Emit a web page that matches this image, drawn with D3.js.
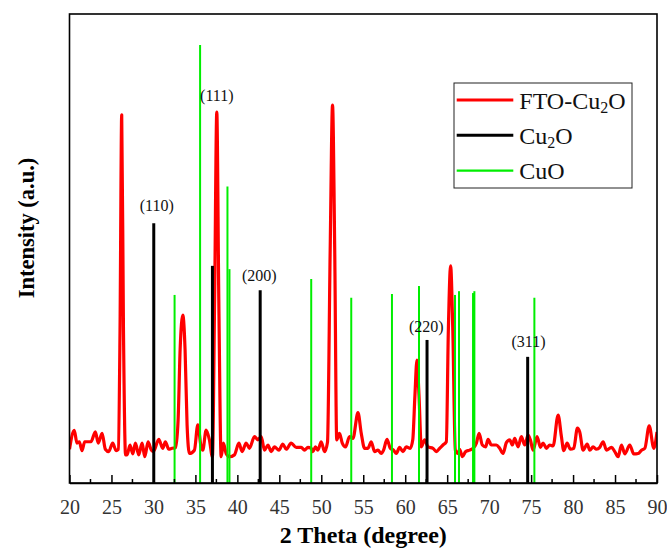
<!DOCTYPE html>
<html>
<head>
<meta charset="utf-8">
<script src="https://cdn.jsdelivr.net/npm/d3@7/dist/d3.min.js"></script>
<style>
  html, body { margin: 0; padding: 0; background: #fff; }
  svg { display: block; }
  text { font-family: "Liberation Serif", "Times New Roman", serif; }
</style>
</head>
<body>
<svg id="chart" width="667" height="549"></svg>
<script>
// Measured XRD pattern of the FTO-Cu2O film: 2θ (degree) and intensity (a.u.)
const patternTheta = [
  20.0, 20.57, 20.89, 21.17, 21.49, 21.81, 22.56, 23.08, 23.43, 23.88, 24.27, 24.67, 25.15, 25.55,
  25.82, 26.02, 26.22, 26.43, 26.68, 26.86, 27.21, 27.54, 27.85, 28.25, 28.65, 28.97, 29.36, 29.75,
  29.99, 30.64, 31.11, 31.42, 31.83, 32.22, 32.64, 32.94, 33.18, 33.50, 33.77, 34.01, 34.29, 34.88,
  35.29, 35.68, 35.88, 36.28, 36.67, 37.03, 37.29, 37.55, 37.79, 38.07, 38.34, 38.66, 39.06, 39.65,
  40.18, 40.57, 41.05, 41.44, 42.04, 42.44, 42.84, 43.23, 43.64, 44.03, 44.42, 44.95, 45.42, 45.82,
  46.41, 47.01, 47.61, 48.00, 48.41, 48.80, 49.00, 49.31, 49.60, 49.99, 50.39, 50.74, 51.06, 51.34,
  51.60, 51.84, 52.17, 52.50, 52.89, 53.37, 53.77, 54.37, 54.76, 55.16, 55.56, 55.95, 56.35, 56.75,
  57.15, 57.42, 57.83, 58.22, 58.61, 58.94, 59.33, 59.73, 60.13, 60.60, 60.90, 61.16, 61.40, 61.64,
  61.92, 62.31, 62.72, 63.31, 63.71, 64.10, 64.50, 64.90, 65.14, 65.41, 65.67, 65.97, 66.29, 66.48,
  66.81, 67.20, 67.68, 68.08, 68.48, 68.80, 69.19, 69.58, 69.87, 70.26, 70.86, 71.25, 71.66, 72.05,
  72.45, 72.77, 73.04, 73.45, 73.84, 74.24, 74.64, 74.91, 75.24, 75.71, 76.11, 76.43, 76.82, 77.22,
  77.62, 78.22, 78.61, 78.89, 79.29, 79.68, 80.08, 80.52, 80.79, 81.20, 81.68, 81.99, 82.39, 82.79,
  83.18, 83.58, 83.98, 84.57, 84.97, 85.37, 85.77, 86.16, 86.76, 87.23, 87.76, 88.15, 88.55, 89.07,
  89.62, 90.0
];
const patternIntensity = [
  72, 112, 85, 88, 69, 88, 88, 109, 85, 106, 72, 67, 85, 69,
  72, 326, 785, 326, 60, 60, 81, 62, 85, 60, 85, 56, 88, 70,
  67, 93, 74, 88, 72, 74, 75, 134, 284, 358, 284, 124, 63, 70,
  124, 77, 70, 113, 92, 56, 390, 791, 390, 56, 85, 63, 56, 60,
  85, 67, 85, 74, 99, 92, 99, 70, 81, 67, 77, 70, 83, 72,
  85, 76, 76, 70, 76, 74, 67, 77, 70, 88, 67, 87, 497, 806,
  497, 92, 106, 85, 77, 99, 95, 150, 106, 74, 74, 88, 67, 70,
  63, 70, 93, 74, 70, 63, 76, 67, 77, 74, 92, 188, 262, 188,
  77, 92, 77, 74, 67, 74, 81, 88, 326, 463, 326, 70, 63, 72,
  56, 67, 70, 74, 85, 106, 81, 77, 93, 81, 81, 74, 63, 86,
  92, 81, 95, 77, 99, 81, 102, 92, 70, 99, 76, 85, 74, 81,
  79, 145, 99, 69, 85, 72, 74, 117, 109, 70, 83, 70, 77, 72,
  76, 88, 70, 76, 67, 56, 81, 62, 81, 62, 63, 70, 74, 122,
  74, 109
];

// Reference stick positions and relative heights
const cu2oTheta = [30.04, 37.03, 42.72, 62.60, 74.59];
const cu2oIntensity = [554, 463, 411, 305, 269];
const cuoTheta = [32.52, 35.56, 38.82, 39.06, 48.80, 53.57, 58.42, 61.64, 65.93, 66.41, 68.08, 68.24, 75.39];
const cuoIntensity = [401, 934, 632, 456, 435, 395, 403, 420, 401, 409, 405, 409, 395];

// Miller indices of the Cu2O reflections and where they are written
const hklLabels = ["(110)", "(111)", "(200)", "(220)", "(311)"];
const hklTheta = [30.40, 37.55, 42.62, 62.51, 74.69];
const hklIntensity = [580, 814, 431, 322, 290];

const xTickValues = [20, 25, 30, 35, 40, 45, 50, 55, 60, 65, 70, 75, 80, 85, 90];

const seriesNames = ["FTO-Cu2O", "Cu2O", "CuO"];
const seriesColors = ["#ff0000", "#000000", "#00ee00"];

const svg = d3.select("#chart");
const margin = { left: 69.5, right: 10, top: 14, bottom: 66 };
const W = 667, H = 549;

const x = d3.scaleLinear().domain([20, 90]).range([margin.left, W - margin.right]);
const y = d3.scaleLinear().domain([0, 1000]).range([H - margin.bottom, margin.top]);

const plot = svg.append("g");

plot.append("defs").append("clipPath").attr("id", "clip")
  .append("rect")
  .attr("x", x(20)).attr("y", y(1000))
  .attr("width", x(90) - x(20)).attr("height", y(0) - y(1000));

// Diffraction pattern
const pattern = patternTheta.map((t, i) => [t, patternIntensity[i]]);
const line = d3.line()
  .x(d => x(d[0]))
  .y(d => y(d[1]))
  .curve(d3.curveMonotoneX);

plot.append("path")
  .datum(pattern)
  .attr("clip-path", "url(#clip)")
  .attr("fill", "none")
  .attr("stroke", seriesColors[0])
  .attr("stroke-width", 3.2)
  .attr("stroke-linejoin", "round")
  .attr("d", line);

// Cu2O reference sticks
plot.selectAll("line.cu2o")
  .data(cu2oTheta.map((t, i) => [t, cu2oIntensity[i]]))
  .join("line")
  .attr("class", "cu2o")
  .attr("x1", d => x(d[0])).attr("x2", d => x(d[0]))
  .attr("y1", y(0)).attr("y2", d => y(d[1]))
  .attr("stroke", seriesColors[1])
  .attr("stroke-width", 3);

// CuO reference sticks
plot.selectAll("line.cuo")
  .data(cuoTheta.map((t, i) => [t, cuoIntensity[i]]))
  .join("line")
  .attr("class", "cuo")
  .attr("x1", d => x(d[0])).attr("x2", d => x(d[0]))
  .attr("y1", y(0)).attr("y2", d => y(d[1]))
  .attr("stroke", seriesColors[2])
  .attr("stroke-width", 2);

// Reflection labels
plot.selectAll("text.hkl")
  .data(hklLabels.map((s, i) => ({ s, t: hklTheta[i], v: hklIntensity[i] })))
  .join("text")
  .attr("class", "hkl")
  .attr("x", d => x(d.t))
  .attr("y", d => y(d.v))
  .attr("text-anchor", "middle")
  .attr("font-size", 16)
  .attr("fill", "#111")
  .text(d => d.s);

// Frame
svg.append("rect")
  .attr("x", x(20)).attr("y", y(1000))
  .attr("width", x(90) - x(20)).attr("height", y(0) - y(1000))
  .attr("fill", "none")
  .attr("stroke", "#000")
  .attr("stroke-width", 1.6);

// Bottom axis: inward ticks, minor every 2.5
const xAxis = d3.axisBottom(x)
  .tickValues(xTickValues)
  .tickSizeInner(-8)
  .tickSizeOuter(0)
  .tickPadding(17)
  .tickFormat(d3.format("d"));

const gx = svg.append("g")
  .attr("transform", `translate(0,${y(0)})`)
  .call(xAxis);
gx.select(".domain").attr("stroke", "#000").attr("stroke-width", 1.6);
gx.selectAll(".tick line").attr("stroke", "#000").attr("stroke-width", 1.5);
gx.selectAll(".tick text")
  .attr("font-family", "'Liberation Serif', 'Times New Roman', serif")
  .attr("font-size", 20)
  .attr("fill", "#333");

const minorTicks = d3.range(22.5, 90, 5);
gx.selectAll("line.minor")
  .data(minorTicks)
  .join("line")
  .attr("class", "minor")
  .attr("x1", d => x(d)).attr("x2", d => x(d))
  .attr("y1", 0).attr("y2", -4)
  .attr("stroke", "#000")
  .attr("stroke-width", 1.5);

// Axis titles
svg.append("text")
  .attr("x", (x(20) + x(90)) / 2)
  .attr("y", 543)
  .attr("text-anchor", "middle")
  .attr("font-size", 24)
  .attr("font-weight", "bold")
  .text("2 Theta (degree)");

svg.append("text")
  .attr("transform", "translate(33.5,228) rotate(-90)")
  .attr("text-anchor", "middle")
  .attr("font-size", 22.5)
  .attr("font-weight", "bold")
  .text("Intensity (a.u.)");

// Legend
const legend = svg.append("g").attr("transform", "translate(454,83)");
legend.append("rect")
  .attr("x", 0).attr("y", 0)
  .attr("width", 178).attr("height", 105)
  .attr("fill", "#fff")
  .attr("stroke", "#222")
  .attr("stroke-width", 1);

const legendWidths = [3, 3, 2.2];
seriesNames.forEach((name, i) => {
  const ly = 17 + i * 35.3;
  legend.append("line")
    .attr("x1", 2.7).attr("x2", 59.3)
    .attr("y1", ly).attr("y2", ly)
    .attr("stroke", seriesColors[i])
    .attr("stroke-width", legendWidths[i]);
  const t = legend.append("text")
    .attr("x", 65.3).attr("y", ly + 8.5)
    .attr("font-size", 24)
    .attr("fill", "#111");
  // Write "Cu2O" with a subscript 2
  const parts = name.split("2");
  if (parts.length === 2) {
    t.append("tspan").text(parts[0]);
    t.append("tspan").attr("font-size", 16).attr("dy", 4).text("2");
    t.append("tspan").attr("dy", -4).text(parts[1]);
  } else {
    t.text(name);
  }
});
</script>
</body>
</html>
